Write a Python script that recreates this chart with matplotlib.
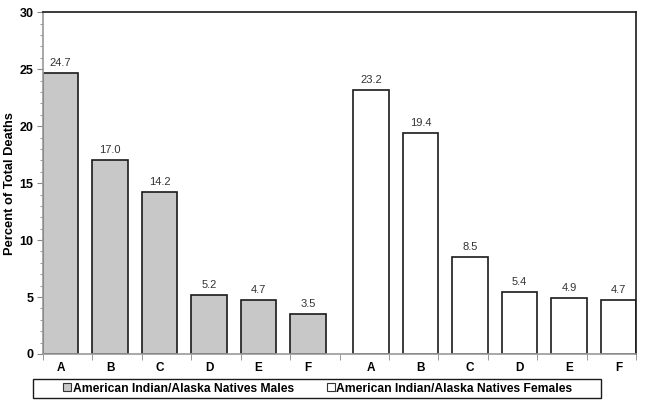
import numpy as np
import matplotlib
matplotlib.use("Agg")
import matplotlib.pyplot as plt
from matplotlib.patches import Patch, Rectangle

plt.rcParams["font.family"] = ["Liberation Sans", "DejaVu Sans"]

causes = ["A", "B", "C", "D", "E", "F"]
males = [24.7, 17.0, 14.2, 5.2, 4.7, 3.5]
females = [23.2, 19.4, 8.5, 5.4, 4.9, 4.7]
male_label = "American Indian/Alaska Natives Males"
female_label = "American Indian/Alaska Natives Females"

fig = plt.figure(figsize=(6.45, 4.08), dpi=100)
ax = fig.add_axes([43 / 645, 1 - 354 / 408, (636 - 43) / 645, (354 - 12.3) / 408])

width = 0.71
x_m = np.arange(len(causes))
x_f = x_m + 6.27

ax.bar(x_m, males, width, color="#c8c8c8", edgecolor="#1a1a1a", linewidth=1.2)
ax.bar(x_f, females, width, color="white", edgecolor="#1a1a1a", linewidth=1.2)

for xs, vals in ((x_m, males), (x_f, females)):
    for x, v in zip(xs, vals):
        ax.text(x, v + 0.45, f"{v:.1f}", ha="center", va="bottom",
                fontsize=8, color="#333333")

x0, x1 = -width / 2, x_f[-1] + width / 2
ax.set_xlim(x0, x1)
ax.set_ylim(0, 30)

# category labels under bars, tick marks on an even grid
ax.set_xticks(np.concatenate([x_m, x_f]))
ax.set_xticklabels(causes + causes, fontsize=8.5, fontweight="bold")
ax.tick_params(axis="x", which="major", length=0, pad=6)
ax.set_xticks(np.linspace(x0, x1, 13), minor=True)
ax.tick_params(axis="x", which="minor", length=4, color="#888888", direction="out")

ax.set_yticks(np.arange(0, 31, 5))
ax.set_yticks(np.arange(0, 31, 1), minor=True)
ax.tick_params(axis="y", which="major", length=4, color="#888888",
               labelsize=9, pad=3)
ax.tick_params(axis="y", which="minor", length=2.5, color="#888888")
for lbl in ax.get_yticklabels():
    lbl.set_fontweight("bold")

ax.set_ylabel("Percent of Total Deaths", fontsize=9.3, fontweight="bold", labelpad=2)

for side in ("left", "bottom"):
    ax.spines[side].set_color("#999999")
    ax.spines[side].set_linewidth(1.2)
for side in ("top", "right"):
    ax.spines[side].set_color("#1a1a1a")
    ax.spines[side].set_linewidth(1.2)

# legend box
fig.patches.append(Rectangle((33 / 645, 1 - 398 / 408), (601 - 33) / 645, 19 / 408,
                             transform=fig.transFigure, fill=False,
                             edgecolor="#1a1a1a", linewidth=1.0))
handles = [Patch(facecolor="#c8c8c8", edgecolor="#333333", linewidth=0.8),
           Patch(facecolor="white", edgecolor="#333333", linewidth=0.8)]
fig.legend(handles, [male_label, female_label], loc="center",
           bbox_to_anchor=(318 / 645, 1 - 388.5 / 408),
           ncol=2, frameon=False,
           handlelength=0.65, handleheight=0.65, handletextpad=0.15,
           borderpad=0, columnspacing=2.7,
           prop={"size": 8.7, "weight": "bold"})

fig.savefig("out.png", dpi=100)
